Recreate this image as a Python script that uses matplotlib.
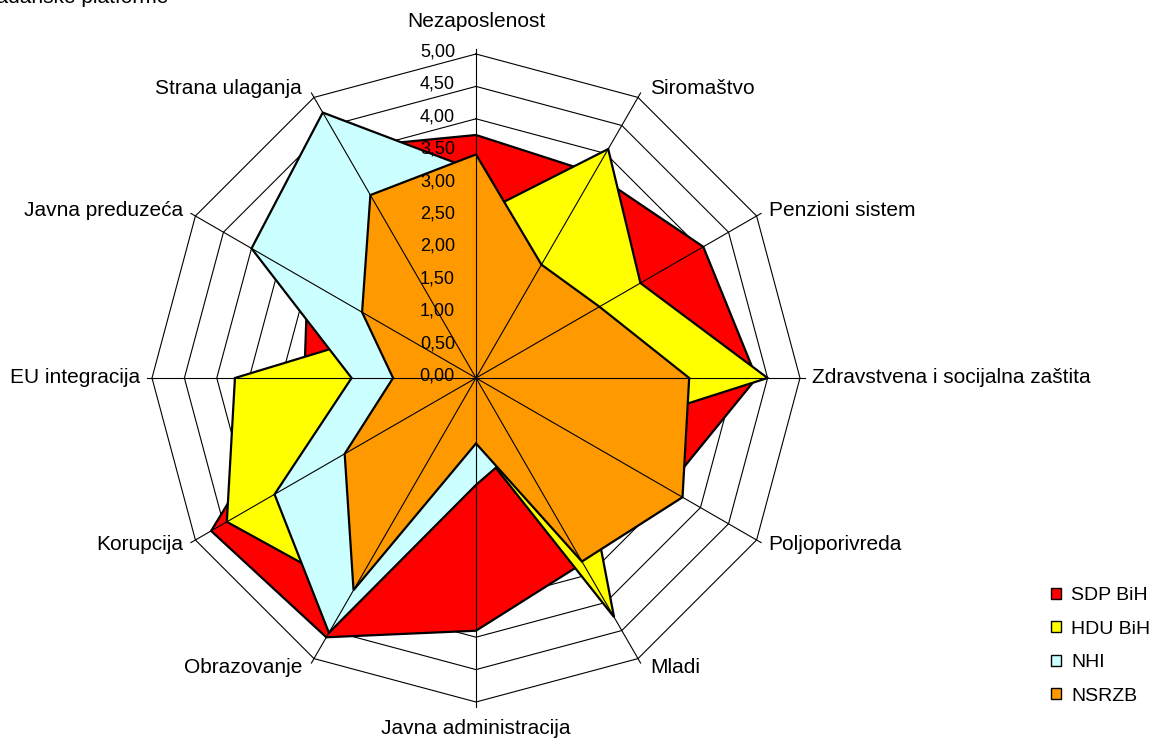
import numpy as np
import matplotlib
matplotlib.use('Agg')
import matplotlib.pyplot as plt
from matplotlib.patches import Patch

plt.rcParams['font.family'] = ['Liberation Sans', 'DejaVu Sans']

categories = ['Nezaposlenost', 'Siromaštvo', 'Penzioni sistem',
              'Zdravstvena i socijalna zaštita', 'Poljoporivreda', 'Mladi',
              'Javna administracija', 'Obrazovanje', 'Korupcija',
              'EU integracija', 'Javna preduzeća', 'Strana ulaganja']

# ocjene po stranci (0-5)
sdp = [3.75, 3.65, 4.05, 4.33, 3.40, 3.30, 3.90, 4.62, 4.72, 2.65, 3.00, 4.10]
hdu = [2.50, 4.08, 2.93, 4.50, 1.85, 4.26, 1.00, 3.80, 4.44, 3.72, 1.48, 2.00]
nhi = [3.20, 1.50, 1.50, 2.00, 2.00, 1.27, 1.65, 4.54, 3.59, 1.92, 4.00, 4.73]
nsrzb = [3.45, 2.02, 2.20, 3.29, 3.68, 3.27, 1.01, 3.78, 2.34, 1.28, 2.03, 3.26]

series_names = ['SDP BiH', 'HDU BiH', 'NHI', 'NSRZB']
series_colors = ['#FF0000', '#FFFF00', '#CCFFFF', '#FF9900']

r_ticks = np.arange(0, 5.01, 0.5)
tick_labels = [('%.2f' % t).replace('.', ',') for t in r_ticks]

fig = plt.figure(figsize=(11.52, 7.4), dpi=100)
fig.patch.set_facecolor('white')
ax = fig.add_axes([152 / 1152, 38 / 740, 648 / 1152, 648 / 740], projection='polar')
ax.set_theta_zero_location('N')
ax.set_theta_direction(-1)
ax.set_ylim(0, 5)
ax.set_axis_off()

n = len(categories)
theta = np.arange(n) * 2 * np.pi / n
theta_c = np.append(theta, theta[0])

# polygon grid (ispod poligona)
for t in r_ticks[1:]:
    ax.plot(theta_c, [t] * (n + 1), color='black', lw=0.8, zorder=1, clip_on=False)

for vals, col in zip([sdp, hdu, nhi, nsrzb], series_colors):
    v = np.append(vals, vals[0])
    ax.fill(theta_c, v, facecolor=col, edgecolor='black', lw=1.6, zorder=2)

# spokes on top
for th in theta:
    ax.plot([th, th], [0, 5.08], color='black', lw=0.8, zorder=6, clip_on=False)

for t, lab in zip(r_ticks, tick_labels):
    ax.annotate(lab, xy=(0, t), xytext=(-21, 2), textcoords='offset pixels',
                ha='right', va='center', fontsize=13, annotation_clip=False, zorder=7)

for th, name in zip(theta, categories):
    s, c = np.sin(th), np.cos(th)
    if abs(s) < 1e-6:
        off = (0, 32) if c > 0 else (0, -27)
        ha = 'center'
    else:
        off = (12 * np.sign(s), 10 * c)
        ha = 'left' if s > 0 else 'right'
    ax.annotate(name, xy=(th, 5), xytext=off, textcoords='offset pixels',
                ha=ha, va='center', fontsize=15, annotation_clip=False)

fig.text(168 / 1152, 1 - 3 / 740, 'građanske platforme', ha='right', va='baseline', fontsize=15)

handles = [Patch(facecolor=c, edgecolor='black', lw=1) for c in series_colors]
fig.legend(handles, series_names, loc='upper left', bbox_to_anchor=(1051 / 1152, 1 - 587 / 740),
           frameon=False, fontsize=14, handlelength=0.5, handleheight=0.5,
           handletextpad=0.55, labelspacing=0.85, borderpad=0, borderaxespad=0)

fig.savefig('out.png', dpi=100)
